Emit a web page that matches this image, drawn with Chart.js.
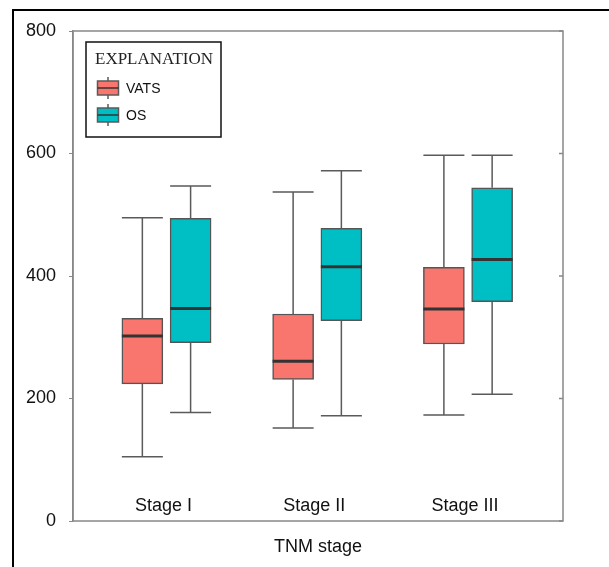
<!DOCTYPE html>
<html>
<head>
<meta charset="utf-8">
<script src="https://cdn.jsdelivr.net/npm/chart.js@4.4.1/dist/chart.umd.min.js"></script>
<style>
  html, body { margin: 0; padding: 0; background: #fff; }
  #wrap { position: relative; width: 609px; height: 567px; }
</style>
</head>
<body>
<div id="wrap"><canvas id="chart"></canvas></div>
<script>
// data
const stages = ['Stage I', 'Stage II', 'Stage III'];
const yTicks = [0, 200, 400, 600, 800];

const vatsMin = [105, 152, 173];
const vatsQ1 = [224, 231, 289];
const vatsMedian = [302, 261, 346];
const vatsQ3 = [331, 338, 414];
const vatsMax = [495, 537, 597];

const osMin = [177, 172, 207];
const osQ1 = [291, 327, 358];
const osMedian = [347, 415, 427];
const osQ3 = [494, 478, 544];
const osMax = [547, 572, 597];

const groupShift = 0.16; // side-by-side offset of the two boxes
const FONT = '"Liberation Sans", Arial, sans-serif';

function boxData(q1, q3, side) {
    return stages.map((s, i) => ({ x: i + 1 + side * groupShift, y: [q1[i], q3[i]] }));
}

const stats = [
    { min: vatsMin, med: vatsMedian, max: vatsMax },
    { min: osMin, med: osMedian, max: osMax }
];

// whiskers behind, medians on top, plus frame / legend / labels
const boxPlugin = {
    id: 'boxParts',
    beforeDraw(chart) {
        const ctx = chart.ctx;
        ctx.save();
        ctx.strokeStyle = '#000';
        ctx.lineWidth = 2;
        ctx.strokeRect(13, 10, 800, 800); // outer frame, runs off the page
        ctx.restore();
    },
    beforeDatasetsDraw(chart) {
        const ctx = chart.ctx;
        const y = chart.scales.y;
        ctx.save();
        ctx.strokeStyle = '#5a5a5a';
        ctx.lineWidth = 1.5;
        chart.data.datasets.forEach((ds, d) => {
            const meta = chart.getDatasetMeta(d);
            meta.data.forEach((bar, i) => {
                const half = bar.width / 2;
                const yMin = y.getPixelForValue(stats[d].min[i]);
                const yMax = y.getPixelForValue(stats[d].max[i]);
                const yLo = y.getPixelForValue(ds.data[i].y[0]);
                const yHi = y.getPixelForValue(ds.data[i].y[1]);
                ctx.beginPath();
                ctx.moveTo(bar.x, yHi); ctx.lineTo(bar.x, yMax);
                ctx.moveTo(bar.x - half, yMax); ctx.lineTo(bar.x + half, yMax);
                ctx.moveTo(bar.x, yLo); ctx.lineTo(bar.x, yMin);
                ctx.moveTo(bar.x - half, yMin); ctx.lineTo(bar.x + half, yMin);
                ctx.stroke();
            });
        });
        ctx.restore();
    },
    afterDatasetsDraw(chart) {
        const ctx = chart.ctx;
        const y = chart.scales.y;
        const x = chart.scales.x;
        const area = chart.chartArea;
        ctx.save();
        // medians
        ctx.strokeStyle = '#333';
        ctx.lineWidth = 3;
        chart.data.datasets.forEach((ds, d) => {
            chart.getDatasetMeta(d).data.forEach((bar, i) => {
                const half = bar.width / 2;
                const ym = y.getPixelForValue(stats[d].med[i]);
                ctx.beginPath();
                ctx.moveTo(bar.x - half, ym);
                ctx.lineTo(bar.x + half, ym);
                ctx.stroke();
            });
        });

        // plot frame
        ctx.strokeStyle = '#888';
        ctx.lineWidth = 1.5;
        ctx.strokeRect(area.left, area.top, area.right - area.left, area.bottom - area.top);
        // inner ticks on the right side
        ctx.beginPath();
        yTicks.forEach(v => {
            const py = y.getPixelForValue(v);
            ctx.moveTo(area.right - 4, py);
            ctx.lineTo(area.right, py);
        });
        ctx.stroke();

        // stage labels inside the plot
        ctx.fillStyle = '#111';
        ctx.font = '18px ' + FONT;
        ctx.textAlign = 'center';
        ctx.textBaseline = 'middle';
        stages.forEach((s, i) => {
            ctx.fillText(s, x.getPixelForValue(i + 1) - 3, 506);
        });
        // axis title
        ctx.fillText('TNM stage', (area.left + area.right) / 2, 547);

        // legend
        const lx = 86, ly = 42, lw = 135, lh = 95;
        ctx.fillStyle = '#fff';
        ctx.fillRect(lx, ly, lw, lh);
        ctx.strokeStyle = '#111';
        ctx.lineWidth = 1.5;
        ctx.strokeRect(lx, ly, lw, lh);
        ctx.fillStyle = '#222';
        ctx.font = '17px "Liberation Serif", "Times New Roman", serif';
        ctx.textAlign = 'left';
        ctx.fillText('EXPLANATION', 95, 60);
        ctx.font = '14px ' + FONT;
        chart.data.datasets.forEach((ds, d) => {
            const cy = 88 + d * 27;
            ctx.strokeStyle = '#5a5a5a';
            ctx.lineWidth = 1.5;
            ctx.beginPath();
            ctx.moveTo(108, cy - 11); ctx.lineTo(108, cy + 11);
            ctx.stroke();
            ctx.fillStyle = ds.backgroundColor;
            ctx.fillRect(97.5, cy - 7, 21, 14);
            ctx.strokeRect(97.5, cy - 7, 21, 14);
            ctx.strokeStyle = '#333';
            ctx.beginPath();
            ctx.moveTo(97.5, cy); ctx.lineTo(118.5, cy);
            ctx.stroke();
            ctx.fillStyle = '#111';
            ctx.fillText(ds.label, 126, cy + 1);
        });
        ctx.restore();
    }
};

const ctx = document.getElementById('chart').getContext('2d');
const chart = new Chart(ctx, {
    type: 'bar',
    data: {
        datasets: [{
            label: 'VATS',
            data: boxData(vatsQ1, vatsQ3, -1),
            backgroundColor: '#F8766D',
            borderColor: '#555',
            borderWidth: 1.5,
            borderSkipped: false,
            barThickness: 41,
            grouped: false
        }, {
            label: 'OS',
            data: boxData(osQ1, osQ3, 1),
            backgroundColor: '#00BFC4',
            borderColor: '#555',
            borderWidth: 1.5,
            borderSkipped: false,
            barThickness: 41,
            grouped: false
        }]
    },
    options: {
        responsive: true,
        maintainAspectRatio: false,
        animation: false,
        layout: { padding: { left: 0, top: 31, right: 46, bottom: 46 } },
        plugins: {
            legend: { display: false },
            tooltip: { enabled: false }
        },
        scales: {
            x: {
                type: 'linear',
                min: 0.38,
                max: 3.63,
                offset: false,
                grid: { offset: false },
                display: false
            },
            y: {
                min: 0,
                max: 800,
                afterBuildTicks: (scale) => {
                    scale.ticks = yTicks.map(v => ({ value: v }));
                },
                afterFit: (scale) => { scale.width = 73; },
                ticks: {
                    color: '#111',
                    padding: 13,
                    font: { family: FONT, size: 18 }
                },
                grid: {
                    drawOnChartArea: false,
                    drawTicks: true,
                    tickLength: 4,
                    color: '#888'
                },
                border: { display: true, color: '#888', width: 1.5 }
            }
        }
    },
    plugins: [boxPlugin]
});
</script>
</body>
</html>
